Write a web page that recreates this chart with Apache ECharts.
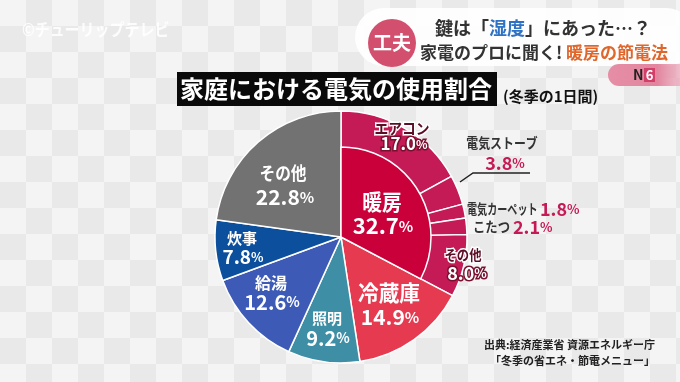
<!DOCTYPE html>
<html><head><meta charset="utf-8">
<script src="https://cdn.jsdelivr.net/npm/echarts@6/dist/echarts.min.js"></script>
<style>html,body{margin:0;padding:0;}#c{width:680px;height:382px;}</style>
</head><body><div id="c"></div>
<script>
// data
const heatingTotal = {name:'暖房', value:32.7};
const heatingSubNames = ['エアコン','電気ストーブ','電気カーペット','こたつ','その他'];
const heatingSubValues = [17.0, 3.8, 1.8, 2.1, 8.0];
const otherNames = ['冷蔵庫','照明','給湯','炊事','その他'];
const otherValues = [14.9, 9.2, 12.6, 7.8, 22.8];
const otherColors = ['#e63a50','#3e8ea6','#3d5bb6','#0c4f9d','#727272'];

const FONT = '"Noto Sans CJK JP", sans-serif';
const chart = echarts.init(document.getElementById('c'));

// checkered background
const bg = [];
const S = 26;
for (let y = 0; y < 382; y += S) {
  for (let x = 0; x < 680; x += S) {
    const odd = ((x / S) + (y / S)) % 2;
    bg.push({type:'rect', silent:true, z:-10, shape:{x:x, y:y, width:S, height:S},
      style:{fill: odd ? '#e9e9e9' : '#f4f4f4'}});
  }
}

function pct(v){ return v.toFixed(1); }
function valText(x, y, v, size, fill, stroke, align) {
  const st = stroke ? {stroke:stroke, lineWidth:3} : {};
  return {type:'text', x:x, y:y, z:50, style:{text:'{n|'+pct(v)+'}{p|%}', align:align||'center', verticalAlign:'middle',
    rich:{n:Object.assign({fill:fill, font:'bold '+size+'px '+FONT}, st),
          p:Object.assign({fill:fill, font:'bold '+Math.round(size*0.7)+'px '+FONT}, st)}}};
}
function nameText(x, y, t, size, sx, fill, stroke, align) {
  const st = stroke ? {stroke:stroke, lineWidth:3} : {};
  return {type:'text', x:x, y:y, scaleX:sx, z:50, style:Object.assign({text:t, fill:fill, font:'bold '+size+'px '+FONT,
    align:align||'center', verticalAlign:'middle'}, st)};
}

const outerData = heatingSubNames.map((n,i)=>({name:'暖房-'+n, value:heatingSubValues[i], itemStyle:{color:'#c41a56'}}))
  .concat(otherNames.map((n,i)=>({name:n, value:otherValues[i], itemStyle:{color:otherColors[i]}})));
const innerData = [
  {name:heatingTotal.name, value:heatingTotal.value, itemStyle:{color:'#c9003a'}},
  {name:'rest', value:otherValues.reduce((a,b)=>a+b,0), itemStyle:{color:'rgba(0,0,0,0)', borderWidth:0}}
];

const W = '#fff';
const texts = [
  nameText(382, 202, heatingTotal.name, 22, 0.9, W), valText(383, 226, heatingTotal.value, 22, W),
  nameText(389, 293, otherNames[0], 22, 0.94, W), valText(390, 317, otherValues[0], 21, W),
  nameText(327, 318, otherNames[1], 15, 1, W), valText(328, 338, otherValues[1], 20, W),
  nameText(271, 283, otherNames[2], 16, 1, W), valText(272, 302, otherValues[2], 20, W),
  nameText(242, 238, otherNames[3], 15, 1, W), valText(243, 257, otherValues[3], 19, W),
  nameText(283, 173, otherNames[4], 18, 0.87, W), valText(285, 197, otherValues[4], 21, W),
  nameText(402, 128, heatingSubNames[0], 15, 0.92, '#5a0d25', W), valText(404, 144, heatingSubValues[0], 17, W, '#7a1030'),
  nameText(463, 255, heatingSubNames[4], 14, 0.88, '#5a0d25', W), valText(467, 273, heatingSubValues[4], 18, W, '#7a1030'),
  nameText(502, 143, heatingSubNames[1], 14, 0.85, '#333'), valText(505, 163, heatingSubValues[1], 18, '#c41a56'),
  {type:'polyline', z:50, shape:{points:[[460,182],[473,173],[530,173]]}, style:{stroke:'#222', lineWidth:1.5, fill:null}},
  nameText(467, 209, heatingSubNames[2], 14, 0.72, '#333', null, 'left'), valText(540, 209, heatingSubValues[2], 18, '#c41a56', null, 'left'),
  nameText(473, 227, heatingSubNames[3], 14, 0.88, '#333', null, 'left'), valText(513, 227, heatingSubValues[3], 18, '#c41a56', null, 'left')
];

const header = [
  {type:'text', x:22, y:30, z:5, scaleX:0.88, style:{text:'©チューリップテレビ', fill:'rgba(255,255,255,0.85)', font:'bold 17px '+FONT, verticalAlign:'middle'}},
  {type:'rect', z:5, shape:{x:355, y:8, width:340, height:58, r:29}, style:{fill:'rgba(255,255,255,0.9)'}},
  {type:'circle', z:6, shape:{cx:392, cy:43, r:24}, style:{fill:'#d2506e'}},
  {type:'text', x:392, y:43, z:7, style:{text:'工夫', fill:'#fff', font:'bold 19px '+FONT, align:'center', verticalAlign:'middle'}},
  {type:'text', x:543, y:28, z:7, style:{text:'{a|鍵は「}{b|湿度}{a|」にあった…？}', align:'center', verticalAlign:'middle',
    rich:{a:{fill:'#333', font:'bold 18px '+FONT}, b:{fill:'#2e72c4', font:'bold 18px '+FONT}}}},
  {type:'text', x:544, y:53, z:7, style:{text:'{a|家電のプロに聞く! }{b|暖房の節電法}', align:'center', verticalAlign:'middle',
    rich:{a:{fill:'#333', font:'bold 17px '+FONT}, b:{fill:'#e0672c', font:'bold 17px '+FONT}}}},
  {type:'rect', z:5, shape:{x:608, y:64, width:90, height:22, r:[11,0,0,11]}, style:{fill:new echarts.graphic.LinearGradient(0,0,1,0,[{offset:0,color:'#e68ea6'},{offset:0.55,color:'#e2869f'},{offset:1,color:'rgba(240,170,190,0.3)'}])}},
  {type:'text', x:633, y:75, z:7, style:{text:'N', fill:'#222', font:'bold 14px '+FONT, verticalAlign:'middle'}},
  {type:'rect', z:6, shape:{x:644, y:68, width:11, height:14}, style:{fill:'#d2406a'}},
  {type:'text', x:649.5, y:75, z:7, style:{text:'6', fill:'#fff', font:'bold 13px '+FONT, align:'center', verticalAlign:'middle'}},
  {type:'rect', z:5, shape:{x:177, y:72, width:320, height:34}, style:{fill:'#0a0a0a'}},
  {type:'text', x:336, y:89, z:6, style:{text:'家庭における電気の使用割合', fill:'#fff', font:'bold 24px '+FONT, align:'center', verticalAlign:'middle'}},
  {type:'text', x:503, y:96, z:6, style:{text:'(冬季の1日間)', fill:'#111', font:'bold 15px '+FONT, verticalAlign:'middle'}},
  {type:'text', x:655, y:345, z:6, style:{text:'出典:経済産業省 資源エネルギー庁', fill:'#222', font:'bold 11px '+FONT, align:'right', verticalAlign:'middle'}},
  {type:'text', x:655, y:361, z:6, style:{text:'「冬季の省エネ・節電メニュー」', fill:'#222', font:'bold 11px '+FONT, align:'right', verticalAlign:'middle'}}
];

chart.setOption({
  animation:false,
  graphic: bg.concat(header, texts),
  series:[
    {type:'pie', radius:[0,126], center:[341,237], startAngle:90, clockwise:true, silent:true,
     label:{show:false}, labelLine:{show:false},
     itemStyle:{borderColor:'#fff', borderWidth:1.5}, data:outerData, z:2},
    {type:'pie', radius:[0,90], center:[341,237], startAngle:90, clockwise:true, silent:true,
     label:{show:false}, labelLine:{show:false},
     itemStyle:{borderColor:'#fff', borderWidth:1.5}, data:innerData, z:3}
  ]
});
</script></body></html>
